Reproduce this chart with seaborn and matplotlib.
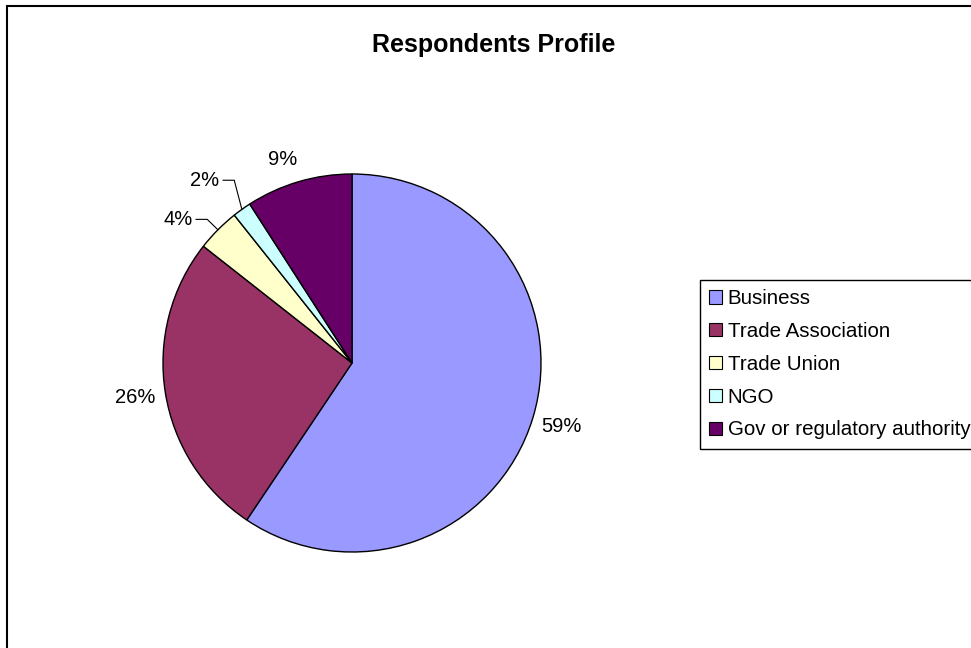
import matplotlib.pyplot as plt
import matplotlib.patches as mpatches
import seaborn as sns
import numpy as np

categories = ["Business", "Trade Association", "Trade Union", "NGO", "Gov or regulatory authority"]
shares = [59.4, 26.2, 3.7, 1.6, 9.1]
colors = ["#9999FF", "#993366", "#FFFFCC", "#CCFFFF", "#660066"]

sns.set_theme(style="white")
plt.rcParams['font.family'] = ['Liberation Sans', 'DejaVu Sans']
plt.rcParams['text.color'] = 'black'

W, H = 971, 648
fig = plt.figure(figsize=(W / 100, H / 100), dpi=100)
fig.patch.set_facecolor("white")

# chart border (Excel style, runs off the right and bottom edges)
fig.patches.append(mpatches.Rectangle((7 / W, -0.05), 1.1, 1 - 6 / H + 0.05,
                                      transform=fig.transFigure, fill=False,
                                      edgecolor="black", linewidth=1.5))

# pie centre (352, 363) px, radius 189 px
cx, cy, r = 352, 363, 189
ax = fig.add_axes([(cx - r) / W, (H - cy - r) / H, 2 * r / W, 2 * r / H])
wedges, texts, autotexts = ax.pie(
    shares, colors=colors, startangle=90, counterclock=False,
    wedgeprops=dict(edgecolor="black", linewidth=1.0),
    autopct=lambda p: "%.0f%%" % p, pctdistance=1.16,
    textprops=dict(fontsize=14.5, color="black"))
ax.set_xlim(-1, 1)
ax.set_ylim(-1, 1)
ax.set_aspect("equal")
ax.axis("off")

# Excel's "best fit" moves the small labels off the wedge and adds leader lines
moved = {2: (-0.921, 0.760), 3: (-0.778, 0.967), 4: (-0.365, 1.075)}
for i, pos in moved.items():
    autotexts[i].set_position(pos)
for i in (2, 3):
    w = wedges[i]
    mid = np.deg2rad((w.theta1 + w.theta2) / 2)
    ex, ey = np.cos(mid), np.sin(mid)
    tx, ty = moved[i]
    x0 = tx + 0.095
    ax.plot([x0, x0 + 0.06, ex], [ty, ty, ey], color="black", lw=0.8, clip_on=False)

fig.text(493.5 / W, 1 - 45 / H, "Respondents Profile", ha="center", va="center",
         fontsize=18, fontweight="bold", color="black")

handles = [mpatches.Patch(facecolor=c, edgecolor="black", linewidth=0.8) for c in colors]
leg = fig.legend(handles, categories, loc="upper left",
                 bbox_to_anchor=(700 / W, 1 - 280 / H), bbox_transform=fig.transFigure,
                 borderaxespad=0, fontsize=14.8, handlelength=0.6, handleheight=0.6,
                 handletextpad=0.3, labelspacing=0.67, borderpad=0.45,
                 fancybox=False, framealpha=1, edgecolor="black")
leg.get_frame().set_linewidth(1.0)
for t in leg.get_texts():
    t.set_color("black")

fig.savefig("out.png", dpi=100)
